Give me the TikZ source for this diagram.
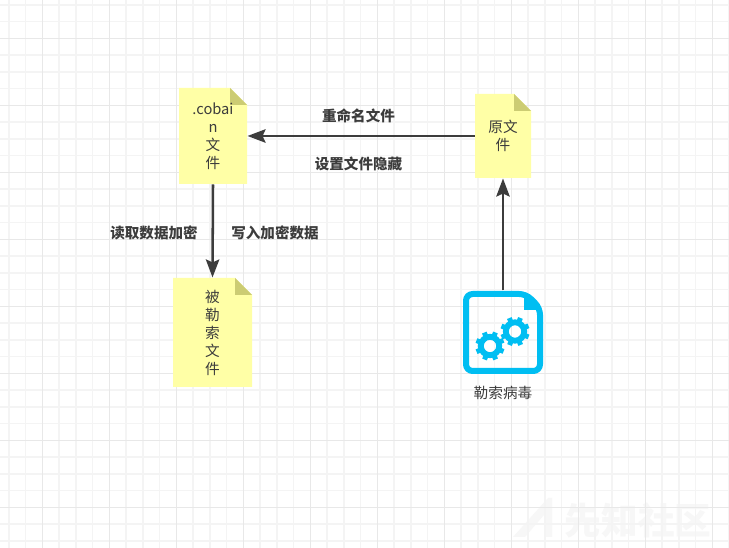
\documentclass[tikz,border=0pt]{standalone}
\usepackage{fontspec}
\setmainfont{Liberation Sans}
\newfontfamily\cjk{Noto Sans CJK SC}
\usetikzlibrary{arrows.meta}
\definecolor{notefill}{HTML}{FFFFA6}
\definecolor{notefold}{HTML}{CCCC73}
\definecolor{linkdark}{HTML}{3C3C3C}
\definecolor{iconblue}{HTML}{00BEF2}
\tikzset{every picture/.style={line width=0.75pt}}
\tikzset{
  minorgrid/.style={draw=black!4.5,line width=1.1pt},
  majorgrid/.style={draw=black!9,line width=1.1pt},
  notetext/.style={text=linkdark,font=\cjk\fontsize{11}{13.5}\selectfont,align=center,inner sep=0pt},
  flowlabel/.style={text=linkdark,font=\cjk\bfseries\fontsize{10.9}{13}\selectfont,inner sep=0pt},
  flowlink/.style={draw=linkdark,line width=1.9pt,-{Stealth[length=13.5pt,width=10pt,inset=2.2pt]}},
  gearline/.style={draw=iconblue,line width=3.7pt},
}
% #1 name, #2 left, #3 top, #4 right, #5 bottom, #6 text
\newcommand{\notefile}[6]{
  \fill[notefill] (#2,#3) -- (#4-17,#3) -- (#4,#3+17) -- (#4,#5) -- (#2,#5) -- cycle;
  \fill[notefold] (#4-17,#3) -- (#4,#3+17) -- (#4-17,#3+17) -- cycle;
  \node[notetext,minimum width=#4*0.75pt-#2*0.75pt,minimum height=#5*0.75pt-#3*0.75pt] (#1) at ({(#2+#4)/2},{(#3+#5)/2}) {#6};
}
\newcommand{\geardraw}[2]{
  \draw[iconblue,line width=4.4pt] (#1,#2) circle [radius=9.2];
  \foreach \ang in {0,45,...,315}
    \draw[gearline] (#1,#2) ++(\ang+22:10) -- ++(\ang+22:4.6);
}

\begin{document}
\begin{tikzpicture}[x=0.75pt,y=0.75pt,yscale=-1,xscale=1]
    \useasboundingbox (0,0) rectangle (729,548);
    \fill[white] (0,0) rectangle (729,548);
    %watermark
    \fill[black!3] (513,537) -- (548,498) -- (552,498) -- (552,537) -- (544,537) -- (544,515) -- (525,537) -- cycle;
    \node[text=black!3,font=\cjk\bfseries\fontsize{27.5}{30}\selectfont,inner sep=0pt] (mark) at (638,521) {先知社区};
    %grid
    \foreach \i in {0,...,43}
      \draw[minorgrid] ({8.8+16.75*\i},0) -- ({8.8+16.75*\i},548);
    \foreach \i in {0,...,32}
      \draw[minorgrid] (0,{4.8+16.75*\i}) -- (729,{4.8+16.75*\i});
    \foreach \i in {0,...,10}
      \draw[majorgrid] ({42.3+67*\i},0) -- ({42.3+67*\i},548);
    \foreach \i in {0,...,7}
      \draw[majorgrid] (0,{38.3+67*\i}) -- (729,{38.3+67*\i});
    %notes
    \notefile{cobain}{179}{88}{247}{184}{.cobai\\n\\文\\件}
    \notefile{origin}{475}{94}{531}{178}{原文\\件}
    \notefile{victim}{173}{278}{252}{387}{被\\勒\\索\\文\\件}
    %ransomware icon
    \node[minimum width=60pt,minimum height=62.25pt,inner sep=0pt] (virus) at (503,332.5) {};
    \draw[iconblue,line width=4.5pt,line join=round,rounded corners=5pt] (466,294) -- (526,294) -- (540,308) -- (540,371) -- (466,371) -- cycle;
    \fill[iconblue] (524,294) -- (540,310) -- (524,310) -- cycle;
    \geardraw{490}{346}
    \geardraw{515}{331.5}
    \node[notetext] (viruslabel) at (503,393) {勒索病毒};
    %links
    \draw[flowlink] (origin.west) -- (cobain.east);
    \draw[flowlink] (cobain.south) -- (victim.north);
    \draw[flowlink] (virus.north) -- (origin.south);
    %labels
    \node[flowlabel] (rename) at (358.5,116) {重命名文件};
    \node[flowlabel] (hide) at (358.5,164) {设置文件隐藏};
    \node[flowlabel] (readenc) at (154,233) {读取数据加密};
    \node[flowlabel] (writeenc) at (275,233) {写入加密数据};
  \end{tikzpicture}
\end{document}
